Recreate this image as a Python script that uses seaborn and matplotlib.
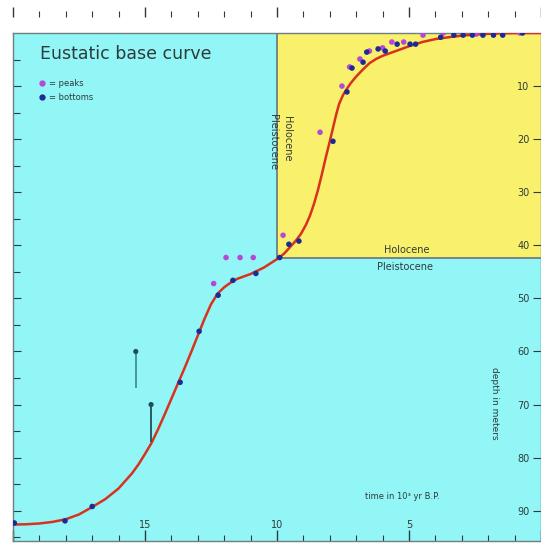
import matplotlib
matplotlib.use("Agg")
import matplotlib.pyplot as plt
import seaborn as sns
from matplotlib.patches import Rectangle
from matplotlib.lines import Line2D

# ---------------- data ----------------
curve_age = [20.0, 19.5, 19.0, 18.5, 18.0, 17.5, 17.0, 16.5, 16.0, 15.5, 15.25, 15.0,
             14.75, 14.5, 14.25, 14.0, 13.75, 13.5, 13.25, 13.0, 12.75, 12.5, 12.25,
             12.0, 11.75, 11.5, 11.0, 10.5, 10.0, 9.9, 9.7, 9.5, 9.3, 9.1, 8.9, 8.75,
             8.6, 8.45, 8.3, 8.15, 8.0, 7.88, 7.76, 7.65, 7.5, 7.35, 7.2, 7.0, 6.75,
             6.5, 6.25, 6.0, 5.5, 5.0, 4.5, 4.0, 3.5, 3.0, 2.5, 2.0, 1.44, 0.7, 0.0]
curve_depth = [92.6, 92.55, 92.4, 92.1, 91.6, 90.7, 89.3, 87.8, 85.8, 83.0, 81.3, 79.3,
               77.2, 74.6, 71.8, 68.9, 66.0, 63.1, 60.1, 57.0, 53.9, 51.1, 49.1,
               47.9, 47.0, 46.3, 45.4, 44.2, 42.6, 42.3, 41.4, 40.3, 39.2, 37.9, 36.1, 34.4,
               32.2, 29.6, 26.6, 23.4, 20.4, 17.9, 15.4, 13.4, 11.7, 10.5, 9.4, 8.2, 6.9,
               5.7, 4.9, 4.3, 3.4, 2.5, 1.7, 1.15, 0.8, 0.5, 0.3, 0.15, 0.05, 0.0, 0.0]

bottoms_age = [19.95, 18.03, 17.0, 13.67, 12.95, 12.23, 11.67, 10.8, 9.9, 9.55, 9.17,
               7.88, 7.35, 7.16, 6.74, 6.6, 6.17, 5.9, 5.45, 4.96, 4.75, 3.8, 3.3, 2.95,
               2.6, 2.2, 1.8, 1.45, 0.7]
bottoms_depth = [92.3, 91.9, 89.2, 65.8, 56.2, 49.4, 46.6, 45.3, 42.3, 39.8, 39.2,
                 20.4, 11.1, 6.6, 5.5, 3.6, 3.0, 3.4, 2.1, 2.1, 2.1, 0.8, 0.4, 0.4,
                 0.4, 0.4, 0.4, 0.4, 0.0]

peaks_age = [12.4, 11.93, 11.4, 10.9, 9.77, 8.37, 7.54, 7.25, 6.86, 6.5, 6.0, 5.65,
             5.2, 4.47, 3.7, 2.45, 1.45, 0.8]
peaks_depth = [47.2, 42.3, 42.3, 42.3, 38.1, 18.7, 10.0, 6.4, 4.9, 3.4, 2.8, 1.7,
               1.7, 0.4, 0.0, 0.2, 0.0, 0.0]

# sample ranges (vertical bars)
range_age = [15.35, 14.77]
range_top = [60.0, 70.0]
range_bottom = [66.8, 77.0]

holocene_start = 10.0
box_depth = 42.3

x_major = [20, 15, 10, 5, 0]
x_major_labels = ["", "15", "10", "5", ""]
x_minor = list(range(0, 21))
y_major = [10, 20, 30, 40, 50, 60, 70, 80, 90]
y_major_labels = ["10", "20", "30", "40", "50", "60", "70", "80", "90"]
y_minor = [5, 15, 25, 35, 45, 55, 65, 75, 85, 95]

# ---------------- style ----------------
sns.set_style("ticks")
plt.rcParams["font.family"] = ["DejaVu Sans"]

CYAN = "#92f6f6"
YELLOW = "#f9f06c"
RED = "#d8321e"
BLUE = "#1c2c96"
MAGENTA = "#b548d6"
TEXT = "#2f3a3a"
EDGE = "#6f7f80"

W, H = 541, 544
fig = plt.figure(figsize=(W / 100, H / 100), dpi=100)
ax = fig.add_axes([13 / W, 3 / H, 528 / W, 508 / H])
ax.set_facecolor(CYAN)

# Holocene box
ax.add_patch(Rectangle((0, 0), holocene_start, box_depth, facecolor=YELLOW,
                       edgecolor="none", zorder=0.5))
ax.plot([holocene_start, holocene_start], [0, box_depth], color=EDGE, lw=1.3, zorder=1)
ax.plot([holocene_start, 0], [box_depth, box_depth], color=EDGE, lw=1.3, zorder=1)

# curve
sns.lineplot(x=curve_age, y=curve_depth, sort=False, estimator=None, color=RED,
             lw=1.8, ax=ax, zorder=3)

# points
sns.scatterplot(x=peaks_age, y=peaks_depth, color=MAGENTA, s=16, edgecolor="none",
                ax=ax, zorder=4)
sns.scatterplot(x=bottoms_age, y=bottoms_depth, color=BLUE, s=16, edgecolor="none",
                ax=ax, zorder=5)

# ranges
ax.vlines(range_age, range_top, range_bottom, colors=["#3f8f96", "#1f4f58"], lw=1.3, zorder=3)
sns.scatterplot(x=range_age, y=range_top, color="#1f4f58", s=14, edgecolor="none",
                ax=ax, zorder=4)

ax.set_xlim(20, 0)
ax.set_ylim(95.7, 0)
ax.set_xlabel("")
ax.set_ylabel("")

# x ticks (bottom, inside)
ax.set_xticks(x_major)
ax.set_xticklabels(x_major_labels)
ax.set_xticks(x_minor, minor=True)
ax.tick_params(axis="x", which="both", direction="in", bottom=True, top=False,
               colors=TEXT, labelsize=7, pad=-15)
ax.tick_params(axis="x", which="major", length=8, width=1)
ax.tick_params(axis="x", which="minor", length=4, width=0.8)

# y ticks
ax.set_yticks(y_major)
ax.set_yticklabels(y_major_labels)
ax.set_yticks(y_minor, minor=True)
ax.tick_params(axis="y", which="major", direction="in", left=True, right=True,
               labelleft=False, labelright=True, length=6, width=0.8,
               colors=TEXT, labelsize=7, pad=-17)
ax.tick_params(axis="y", which="minor", direction="in", left=True, right=False,
               length=5, width=0.8, colors=TEXT)

for s in ax.spines.values():
    s.set_color(EDGE)
    s.set_linewidth(1)

# detached top tick row
sec = ax.secondary_xaxis(1 + 16 / 508)
sec.set_xticks(x_major)
sec.set_xticklabels([""] * len(x_major))
sec.set_xticks(x_minor, minor=True)
sec.tick_params(axis="x", which="major", direction="out", length=7, width=1, colors=TEXT)
sec.tick_params(axis="x", which="minor", direction="out", length=4, width=0.8, colors=TEXT)
sec.spines["top"].set_visible(False)

# texts
ax.text(18.98, 4.0, "Eustatic base curve", fontsize=12.5, color=TEXT, ha="left", va="center")
handles = [Line2D([], [], marker="o", ls="none", color=MAGENTA, markersize=3.5),
           Line2D([], [], marker="o", ls="none", color=BLUE, markersize=3.5)]
ax.legend(handles, ["= peaks", "= bottoms"], loc="upper left",
          bbox_to_anchor=(0.035, 0.925), frameon=False, fontsize=6,
          handlelength=0.8, handletextpad=0.4, labelspacing=0.6, labelcolor=TEXT)

ax.text(10.15, 20.6, "Pleistocene", rotation=270, fontsize=7, color=TEXT,
        ha="center", va="center")
ax.text(9.62, 20.0, "Holocene", rotation=270, fontsize=7, color=TEXT,
        ha="center", va="center")
ax.text(5.08, 40.9, "Holocene", fontsize=7, color=TEXT, ha="center", va="center")
ax.text(5.15, 44.0, "Pleistocene", fontsize=7, color=TEXT, ha="center", va="center")
ax.text(1.78, 69.8, "depth in meters", rotation=270, fontsize=6.5, color=TEXT,
        ha="center", va="center")
ax.text(5.27, 87.4, "time in 10³ yr B.P.", fontsize=6, color=TEXT,
        ha="center", va="center")

fig.savefig("out.png", dpi=100)
